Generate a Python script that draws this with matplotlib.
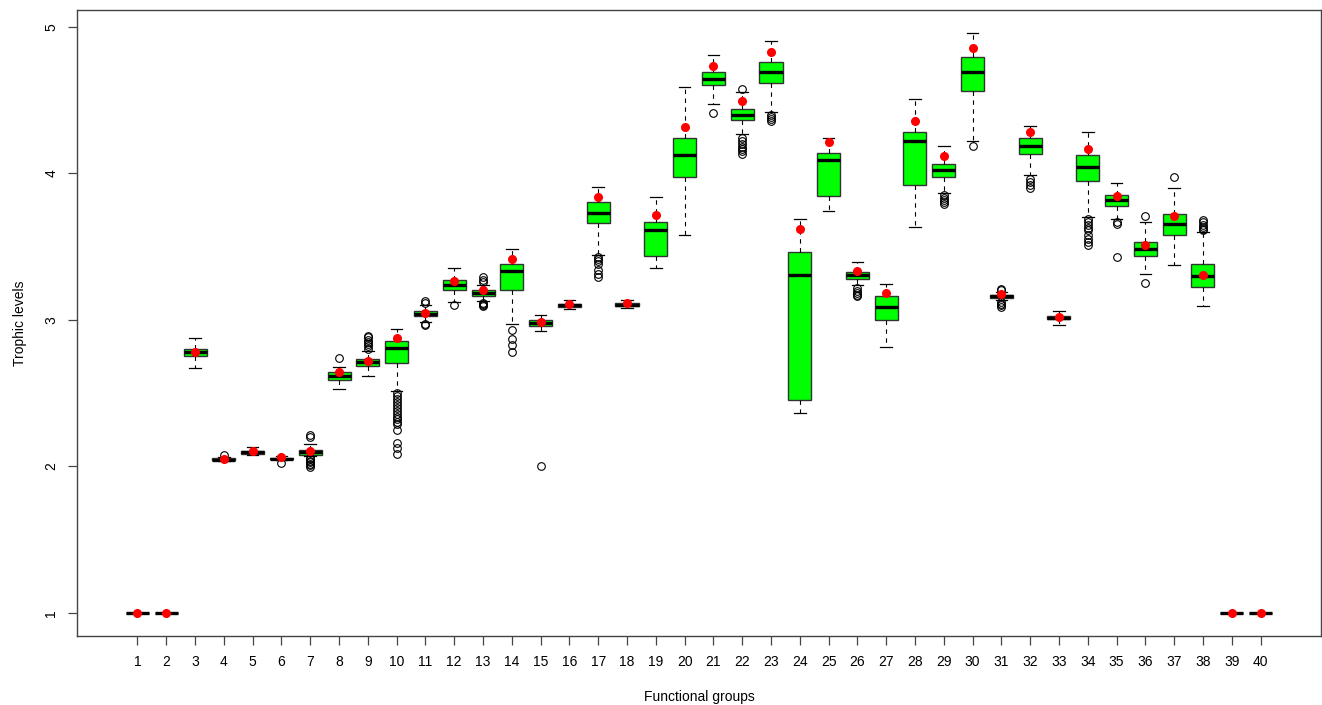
import matplotlib
matplotlib.use("Agg")
import matplotlib.pyplot as plt

plt.rcParams['font.family'] = ['Liberation Sans', 'DejaVu Sans']

groups = list(range(1, 41))

whislo = [1.0, 1.0, 2.668, 2.035, 2.076, 2.045, 2.068, 2.528, 2.62, 2.515,
          2.985, 3.122, 3.13, 2.969, 2.921, 3.074, 3.441, 3.083, 3.357, 3.582,
          4.47, 4.266, 4.422, 2.367, 3.741, 3.236, 2.815, 3.635, 3.864, 4.221,
          3.135, 3.986, 2.962, 3.703, 3.69, 3.311, 3.373, 3.092, 1.0, 1.0]
q1 = [1.0, 1.0, 2.750, 2.040, 2.085, 2.048, 2.080, 2.591, 2.687, 2.708,
      3.027, 3.207, 3.164, 3.207, 2.960, 3.085, 3.659, 3.092, 3.434, 3.977,
      4.600, 4.361, 4.617, 2.456, 3.848, 3.277, 2.997, 3.921, 3.977, 4.560,
      3.150, 4.131, 3.003, 3.950, 3.780, 3.434, 3.577, 3.227, 1.0, 1.0]
medians = [1.0, 1.0, 2.778, 2.046, 2.096, 2.053, 2.096, 2.616, 2.713, 2.810,
           3.042, 3.241, 3.185, 3.335, 2.980, 3.099, 3.731, 3.101, 3.610, 4.125,
           4.647, 4.398, 4.692, 3.304, 4.089, 3.304, 3.085, 4.219, 4.021, 4.692,
           3.162, 4.190, 3.013, 4.040, 3.817, 3.482, 3.652, 3.296, 1.0, 1.0]
q3 = [1.0, 1.0, 2.798, 2.055, 2.106, 2.060, 2.112, 2.643, 2.735, 2.853,
      3.058, 3.275, 3.202, 3.378, 2.997, 3.110, 3.807, 3.117, 3.667, 4.239,
      4.691, 4.441, 4.757, 3.460, 4.142, 3.328, 3.163, 4.281, 4.063, 4.791,
      3.172, 4.239, 3.025, 4.122, 3.852, 3.533, 3.720, 3.378, 1.0, 1.0]
whishi = [1.0, 1.0, 2.873, 2.065, 2.135, 2.068, 2.153, 2.678, 2.790, 2.937,
          3.100, 3.357, 3.240, 3.481, 3.036, 3.133, 3.904, 3.133, 3.838, 4.587,
          4.805, 4.553, 4.902, 3.685, 4.239, 3.398, 3.247, 4.508, 4.185, 4.957,
          3.190, 4.321, 3.060, 4.285, 3.931, 3.667, 3.897, 3.602, 1.0, 1.0]
means = [1.0, 1.0, 2.778, 2.053, 2.108, 2.062, 2.108, 2.643, 2.720, 2.878,
         3.050, 3.263, 3.207, 3.414, 2.985, 3.110, 3.841, 3.117, 3.718, 4.314,
         4.735, 4.494, 4.826, 3.621, 4.214, 3.334, 3.181, 4.357, 4.116, 4.856,
         3.174, 4.282, 3.019, 4.166, 3.844, 3.510, 3.708, 3.304, 1.0, 1.0]

outliers = [
    [], [], [],
    [2.08],
    [],
    [2.022],
    [2.215, 2.20, 2.058, 2.048, 2.038, 2.028, 2.018, 2.008, 1.998],
    [2.74],
    [2.80, 2.82, 2.835, 2.85, 2.865, 2.88, 2.89],
    [2.50, 2.48, 2.46, 2.44, 2.42, 2.40, 2.38, 2.36, 2.34, 2.32, 2.30,
     2.29, 2.25, 2.16, 2.124, 2.085],
    [3.127, 3.115, 2.975, 2.967],
    [3.104],
    [3.29, 3.275, 3.26, 3.117, 3.11, 3.10, 3.095],
    [2.933, 2.87, 2.826, 2.78],
    [2.0],
    [],
    [3.43, 3.415, 3.40, 3.38, 3.34, 3.31, 3.295],
    [], [], [],
    [4.41],
    [4.574, 4.24, 4.22, 4.20, 4.18, 4.165, 4.15, 4.135],
    [4.40, 4.385, 4.37, 4.355],
    [], [],
    [3.22, 3.20, 3.185, 3.17, 3.16],
    [], [],
    [3.85, 3.835, 3.82, 3.805, 3.79],
    [4.186],
    [3.213, 3.205, 3.12, 3.11, 3.10, 3.09],
    [3.959, 3.94, 3.92, 3.90],
    [],
    [3.69, 3.67, 3.65, 3.63, 3.61, 3.58, 3.55, 3.53, 3.51],
    [3.67, 3.655, 3.43],
    [3.712, 3.253],
    [3.972],
    [3.68, 3.665, 3.65, 3.635, 3.62, 3.61],
    [], [],
]

stats = []
for i in range(len(groups)):
    stats.append({
        'label': str(groups[i]),
        'whislo': whislo[i], 'q1': q1[i], 'med': medians[i],
        'q3': q3[i], 'whishi': whishi[i], 'mean': means[i],
        'fliers': outliers[i],
    })

fig = plt.figure(figsize=(13.22, 7.05), dpi=100)
ax = fig.add_axes([77 / 1322, 1 - 636 / 705, 1244 / 1322, 626 / 705])

ax.bxp(stats, positions=groups, widths=0.8, capwidths=0.4,
       patch_artist=True, showmeans=True,
       boxprops=dict(facecolor='#00ff00', edgecolor='#333333', linewidth=1.0),
       medianprops=dict(color='black', linewidth=2.4, solid_capstyle='butt'),
       whiskerprops=dict(color='black', linewidth=0.8, linestyle=(0, (4, 4))),
       capprops=dict(color='black', linewidth=0.9),
       flierprops=dict(marker='o', markerfacecolor='none', markeredgecolor='black',
                       markersize=5.5, markeredgewidth=0.8),
       meanprops=dict(marker='o', markerfacecolor='red', markeredgecolor='red',
                      markersize=5.5))

ax.set_xlim(-1.1, 42.1)
ax.set_ylim(0.842, 5.115)
ax.set_xticks(groups)
ax.set_xticklabels([str(g) for g in groups])
ax.set_yticks([1, 2, 3, 4, 5])
ax.set_yticklabels(['1', '2', '3', '4', '5'], rotation=90, va='center')

for s in ax.spines.values():
    s.set_color('#444444')
    s.set_linewidth(1.0)

ax.tick_params(axis='both', direction='out', length=6.5, width=0.9,
               color='#444444', labelsize=10, pad=7)

ax.set_xlabel('Functional groups', fontsize=10)
ax.set_ylabel('Trophic levels', fontsize=10)
ax.xaxis.set_label_coords(0.5, -0.0865)
ax.yaxis.set_label_coords(-0.0405, 0.5)

fig.savefig('out.png', dpi=100)
